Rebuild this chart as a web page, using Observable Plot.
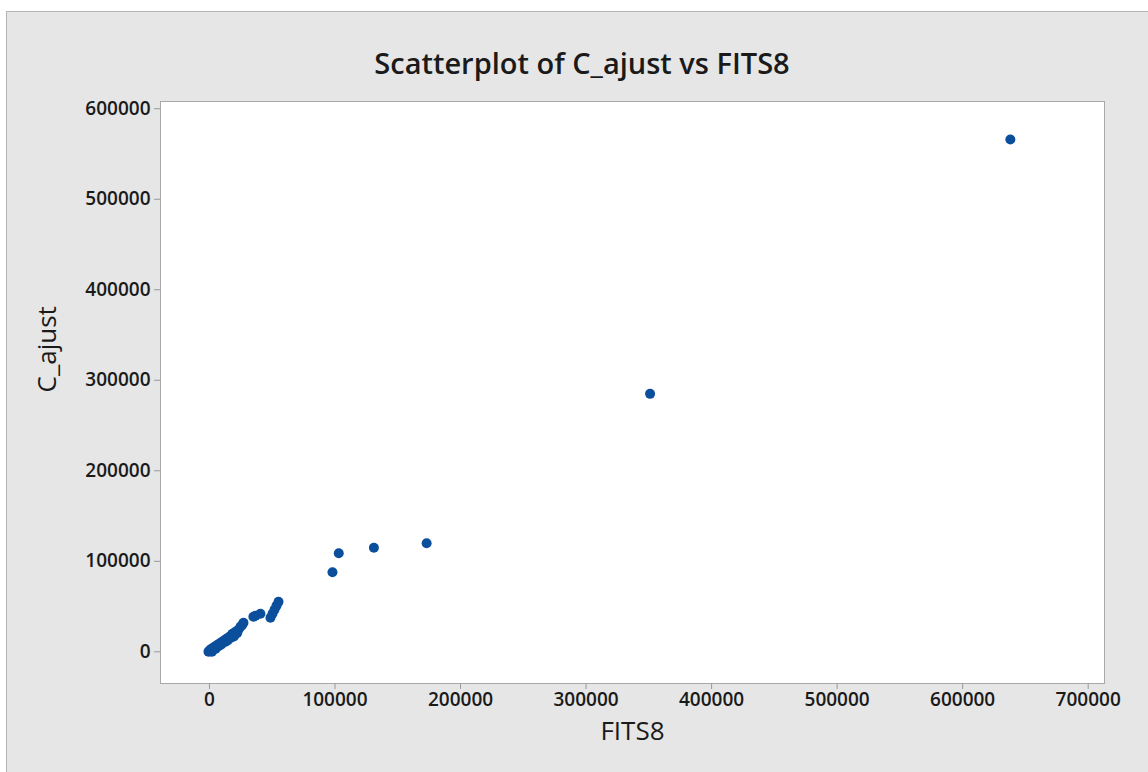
<!DOCTYPE html>
<html>
<head>
<meta charset="utf-8">
<script src="https://cdn.jsdelivr.net/npm/d3@7"></script>
<script src="https://cdn.jsdelivr.net/npm/@observablehq/plot@0.6"></script>
<style>
  html, body { margin: 0; padding: 0; background: #ffffff; }
  #panel {
    position: absolute; left: 6px; top: 11px; width: 1142px; height: 761px;
    background: #e6e6e6; border-top: 1px solid #b4b4b4; border-left: 1px solid #b4b4b4;
    overflow: hidden;
  }
  #title {
    position: absolute; left: -6px; top: 0; width: 1148px; height: 67px;
    text-align: center; font-family: "Open Sans", sans-serif; font-size: 29px;
    font-weight: 600; color: #1a1a1a; line-height: 102px; padding-left: 14px; box-sizing: border-box;
  }
  #chart { position: absolute; left: -7px; top: 67px; }
</style>
</head>
<body>
<div id="panel">
  <div id="title">Scatterplot of C_ajust vs FITS8</div>
  <div id="chart"></div>
</div>
<script>
const fits8 = [638000, 351000, 173000, 131000, 103000, 98000,
  55000, 53400, 51800, 50200, 48600, 40600, 36700, 35000,
  27100, 24700, 23100, 20700, 18300, 15900, 13500, 11200, 8800, 6400, 4000, 1600, 0, -800,
  22000, 17000, 12500, 7500, 3000, 1000, 500, 19500, 14500, 9500, 5000, 2000, 26000];
const cAjust = [566000, 285000, 120000, 115000, 109000, 88000,
  55200, 50800, 46400, 42000, 37600, 42000, 39800, 38700,
  32000, 27600, 24300, 22100, 19900, 16600, 14400, 12200, 9900, 7700, 5500, 3300, 1100, 0,
  20500, 15500, 11000, 6500, 2500, 500, 2000, 17000, 12500, 8000, 3500, 200, 29500];
const xTicks = [0, 100000, 200000, 300000, 400000, 500000, 600000, 700000];
const yTicks = [0, 100000, 200000, 300000, 400000, 500000, 600000];

const data = fits8.map((x, i) => ({x, y: cAjust[i]}));

const chart = Plot.plot({
  width: 1148,
  height: 693,
  marginTop: 22,
  marginLeft: 160,
  marginRight: 44,
  marginBottom: 89,
  style: {background: "transparent", fontFamily: "'Open Sans', sans-serif", color: "#1a1a1a"},
  x: {domain: [-39000, 713000], ticks: xTicks, tickFormat: d => String(d)},
  y: {domain: [-35000, 608000], ticks: yTicks, tickFormat: d => String(d)},
  marks: [
    Plot.frame({fill: "white", stroke: "#a8a8a8"}),
    Plot.axisX({ticks: xTicks, tickFormat: d => String(d), label: null, fontSize: 19, fontWeight: 600, tickSize: 6, stroke: "#999", tickPadding: 3}),
    Plot.axisY({ticks: yTicks, tickFormat: d => String(d), label: null, fontSize: 19, fontWeight: 600, tickSize: 6, stroke: "#999", tickPadding: 4}),
    Plot.text(["FITS8"], {frameAnchor: "bottom", dy: 56, fontSize: 26, fontWeight: 500, fill: "#1a1a1a"}),
    Plot.text(["C_ajust"], {frameAnchor: "left", dx: -113, rotate: -90, fontSize: 26, fontWeight: 500, fill: "#1a1a1a"}),
    Plot.dot(data, {x: "x", y: "y", r: 5, fill: "#0b4f9c", stroke: "none"})
  ]
});
document.getElementById("chart").appendChild(chart);
</script>
</body>
</html>
